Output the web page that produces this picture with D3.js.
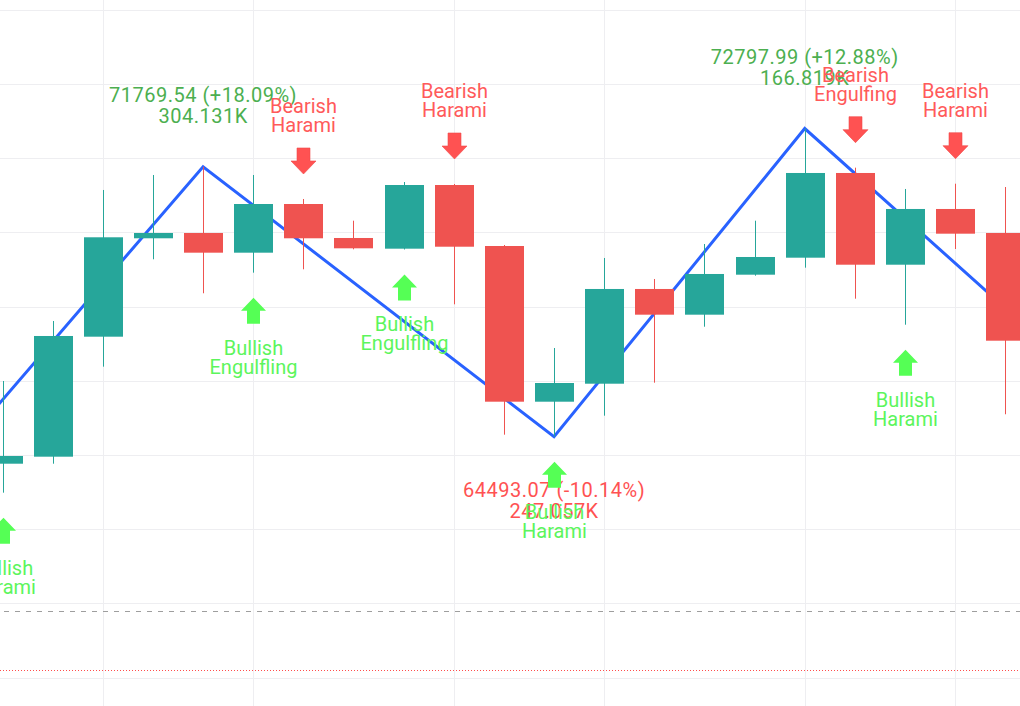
<!DOCTYPE html>
<html>
<head>
<meta charset="utf-8">
<script src="https://cdn.jsdelivr.net/npm/d3@7"></script>
<style>
html,body{margin:0;padding:0;background:#fff;}
svg{display:block;}
text{font-family:Roboto,"Noto Sans",sans-serif;}
</style>
</head>
<body>
<svg id="chart" width="1020" height="706"></svg>
<script>
// ---- data ----
const candleIndex = [0,1,2,3,4,5,6,7,8,9,10,11,12,13,14,15,16,17,18,19,20];
const opens  = [63765,63954,67188,69840,69983,69452,70764,69848,69560,71276,69632,65436,65921,68474,67781,68859,69317,71600,69128,70630,69983];
const highs  = [65994,67611,71142,71546,71769.54,71546,70899,70314,71357,71303,69659,66883,69309,68743,69686,70314,72797.99,71743,71169,71311,71222];
const lows   = [62984,63765,66380,69274,68358,68913,69004,69543,69538,68061,64547,64493.07,65059,65948,67457,68832,69048,68212,67511,69551,65097];
const closes = [63973,67207,69867,69983,69452,70764,69840,69570,71276,69613,65436,65940,68474,67781,68878,69336,71600,69128,70630,69964,67080];

// zigzag pivots (index, price) – first and last lie outside the visible range
const pivotIndex = [-3, 4, 11, 16, 21];
const pivotPrice = [60775, 71769.54, 64493.07, 72797.99, 66750];
// labelled pivots
const pivotLabelIndex = [4, 11, 16];
const pivotLabelPrice = [71769.54, 64493.07, 72797.99];
const pivotLabelChange = ["+18.09%", "-10.14%", "+12.88%"];
const pivotLabelVolume = ["304.131K", "247.057K", "166.819K"];
const pivotLabelKind = ["high", "low", "high"];

// candlestick pattern markers
const patternIndex = [0, 5, 6, 8, 9, 11, 17, 18, 19];
const patternKind  = ["bull","bull","bear","bull","bear","bull","bear","bull","bear"];
const patternLine1 = ["Bullish","Bullish","Bearish","Bullish","Bearish","Bullish","Bearish","Bullish","Bearish"];
const patternLine2 = ["Harami","Engulfling","Harami","Engulfling","Harami","Harami","Engulfing","Harami","Harami"];

// grid
const priceGrid = [58000,60000,62000,64000,66000,68000,70000,72000,74000,76000];
const timeGrid  = [2, 5, 9, 12, 16, 19];
// horizontal price lines
const dashedLinePrice = 59788;
const dottedLinePrice = 58198;

// ---- layout ----
const W = 1020, H = 706;
const svg = d3.select("#chart");
const x = d3.scaleLinear().domain([0, 20]).range([2.5, 1005.3]);
const y = d3.scaleLinear().domain([57235, 76262]).range([H, 0]);
const step = x(1) - x(0);
const bodyW = Math.round(step * 0.78);

const GREEN = "#26a69a", RED = "#ef5350";

// grid
svg.append("g").selectAll("line").data(priceGrid).join("line")
  .attr("x1", 0).attr("x2", W)
  .attr("y1", d => Math.round(y(d)) + 0.5).attr("y2", d => Math.round(y(d)) + 0.5)
  .attr("stroke", "#eeeef1").attr("stroke-width", 1);
svg.append("g").selectAll("line").data(timeGrid).join("line")
  .attr("y1", 0).attr("y2", H)
  .attr("x1", d => Math.round(x(d)) + 0.5).attr("x2", d => Math.round(x(d)) + 0.5)
  .attr("stroke", "#eeeef1").attr("stroke-width", 1);

// price lines
svg.append("line").attr("x1", 4).attr("x2", W)
  .attr("y1", Math.round(y(dashedLinePrice)) + 0.5).attr("y2", Math.round(y(dashedLinePrice)) + 0.5)
  .attr("stroke", "#9e9e9e").attr("stroke-width", 1).attr("stroke-dasharray", "5,6");
svg.append("line").attr("x1", 0).attr("x2", W)
  .attr("y1", Math.round(y(dottedLinePrice)) + 0.5).attr("y2", Math.round(y(dottedLinePrice)) + 0.5)
  .attr("stroke", "#ff4d4d").attr("stroke-width", 1).attr("stroke-dasharray", "1,2");

// zigzag
const zz = pivotIndex.map((d, i) => [x(d), y(pivotPrice[i])]);
svg.append("path").attr("d", d3.line()(zz))
  .attr("fill", "none").attr("stroke", "#2962ff").attr("stroke-width", 3)
  .attr("stroke-linejoin", "miter");

// candles
const cg = svg.append("g");
candleIndex.forEach((d, i) => {
  const up = closes[i] >= opens[i];
  const col = up ? GREEN : RED;
  const cx = Math.round(x(d));
  cg.append("line")
    .attr("x1", cx + 0.5).attr("x2", cx + 0.5)
    .attr("y1", y(highs[i])).attr("y2", y(lows[i]))
    .attr("stroke", col).attr("stroke-width", 1);
  const top = y(Math.max(opens[i], closes[i]));
  const bot = y(Math.min(opens[i], closes[i]));
  cg.append("rect")
    .attr("x", cx + 0.5 - bodyW / 2).attr("width", bodyW)
    .attr("y", top).attr("height", Math.max(1, bot - top))
    .attr("fill", col);
});

// pivot labels
const pl = svg.append("g").attr("font-size", 20).attr("text-anchor", "middle");
pivotLabelIndex.forEach((d, i) => {
  const px = x(d), py = y(pivotLabelPrice[i]);
  const high = pivotLabelKind[i] === "high";
  const col = high ? "#4caf50" : "#ff5252";
  const b1 = high ? py - 65 : py + 60;
  const t = pl.append("text").attr("fill", col).attr("letter-spacing", 0.5);
  t.append("tspan").attr("x", px).attr("y", b1)
    .text(d3.format(".2f")(pivotLabelPrice[i]) + " (" + pivotLabelChange[i] + ")");
  t.append("tspan").attr("x", px).attr("y", b1 + 21.6).text(pivotLabelVolume[i]);
});

// pattern markers
const pg = svg.append("g").attr("font-size", 20).attr("text-anchor", "middle");
patternIndex.forEach((d, i) => {
  const cx = Math.round(x(d)) + 0.5;
  const bull = patternKind[i] === "bull";
  const fill = bull ? "#55ff55" : "#ff5252";
  const stroke = bull ? "#55ff55" : "#f04a4a";
  const txt = bull ? "#5cf55c" : "#ff5a5a";
  if (bull) {
    const tip = y(lows[d]) + 25;
    const pts = [[cx, tip], [cx + 12.5, tip + 13], [cx + 6.5, tip + 13], [cx + 6.5, tip + 26],
                 [cx - 6.5, tip + 26], [cx - 6.5, tip + 13], [cx - 12.5, tip + 13]];
    pg.append("polygon").attr("points", pts.join(" ")).attr("fill", fill);
    const b = tip + 26;
    pg.append("text").attr("x", cx).attr("y", b + 31).attr("fill", txt).text(patternLine1[i]);
    pg.append("text").attr("x", cx).attr("y", b + 50).attr("fill", txt).text(patternLine2[i]);
  } else {
    const tip = y(highs[d]) - 25;
    const pts = [[cx, tip], [cx + 12.5, tip - 13], [cx + 6.5, tip - 13], [cx + 6.5, tip - 26],
                 [cx - 6.5, tip - 26], [cx - 6.5, tip - 13], [cx - 12.5, tip - 13]];
    pg.append("polygon").attr("points", pts.join(" ")).attr("fill", fill)
      .attr("stroke", stroke).attr("stroke-width", 0.6);
    const t = tip - 26;
    pg.append("text").attr("x", cx).attr("y", t - 35).attr("fill", txt).text(patternLine1[i]);
    pg.append("text").attr("x", cx).attr("y", t - 16).attr("fill", txt).text(patternLine2[i]);
  }
});
</script>
</body>
</html>
